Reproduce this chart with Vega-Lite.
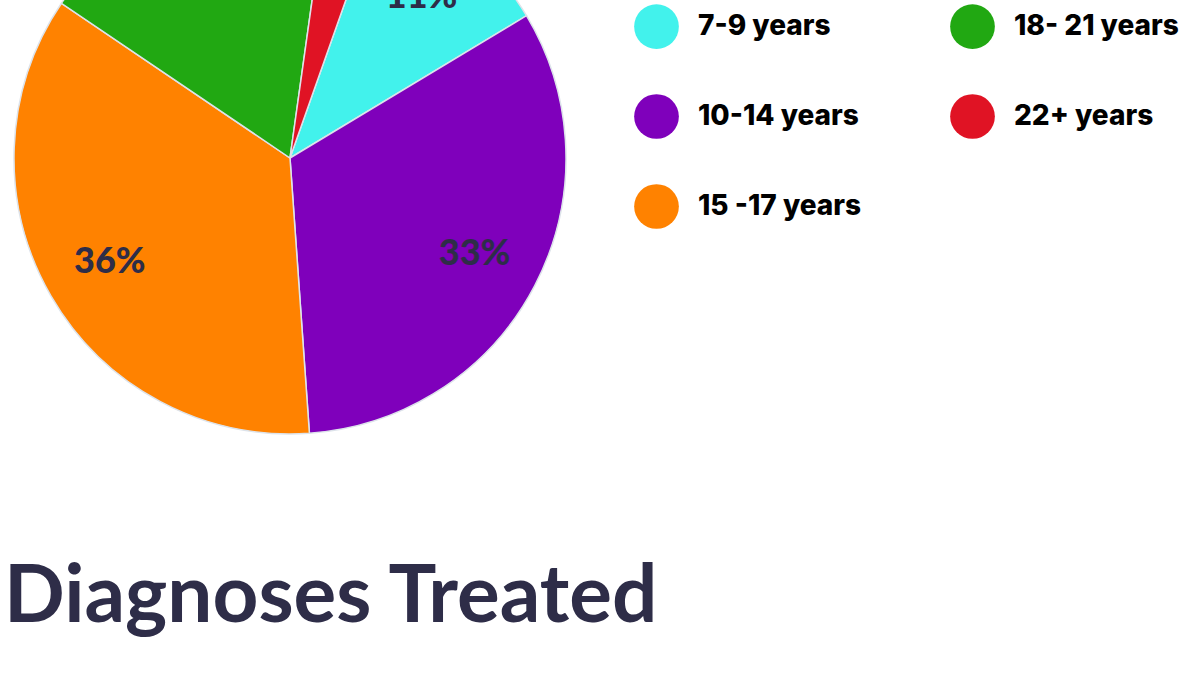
{
  "$schema": "https://vega.github.io/schema/vega-lite/v6.json",
  "width": 580,
  "height": 316,
  "autosize": {"type": "none"},
  "padding": {"left": 0, "top": 0, "right": 612, "bottom": 360},
  "background": "white",
  "title": {
    "text": "Diagnoses Treated",
    "orient": "bottom",
    "anchor": "start",
    "offset": 122,
    "dx": 4,
    "font": "Lato",
    "fontSize": 80,
    "fontWeight": "bold",
    "color": "#2e2d48"
  },
  "data": {
    "values": [
      {"group": "7-9 years", "value": 11, "ord": 1, "label": "11%"},
      {"group": "10-14 years", "value": 32.6, "ord": 2, "label": "33%"},
      {"group": "15 -17 years", "value": 35.7, "ord": 3, "label": "36%"},
      {"group": "18- 21 years", "value": 17.8, "ord": 4, "label": ""},
      {"group": "22+ years", "value": 3.2, "ord": 5, "label": ""}
    ]
  },
  "encoding": {
    "theta": {"field": "value", "type": "quantitative", "stack": true, "scale": {"range": [0.34, 6.623]}},
    "order": {"field": "ord", "type": "quantitative"},
    "color": {
      "field": "group",
      "type": "nominal",
      "scale": {
        "domain": ["7-9 years", "10-14 years", "15 -17 years", "18- 21 years", "22+ years"],
        "range": ["#42f2ec", "#7f00bb", "#ff8200", "#21a812", "#e01324"]
      },
      "legend": {
        "title": null,
        "orient": "none",
        "legendX": 634,
        "legendY": 4,
        "columns": 2,
        "symbolType": "circle",
        "symbolSize": 2000,
        "symbolStrokeWidth": 0,
        "symbolOpacity": 1,
        "labelFont": "Inter",
        "labelFontSize": 28,
        "labelFontWeight": 800,
        "labelColor": "#000000",
        "labelOffset": 19,
        "labelLimit": 400,
        "rowPadding": 45,
        "columnPadding": 88,
        "padding": 0
      }
    }
  },
  "layer": [
    {
      "mark": {"type": "arc", "outerRadius": 276, "stroke": "#dde3ea", "strokeWidth": 1.5}
    },
    {
      "mark": {"type": "text", "radius": 208, "font": "Lato", "fontSize": 36, "fontWeight": 900, "fill": "#2e2d48"},
      "encoding": {
        "text": {"field": "label", "type": "nominal"},
        "color": {"value": "#2e2d48"}
      }
    }
  ],
  "config": {"view": {"stroke": null}}
}
